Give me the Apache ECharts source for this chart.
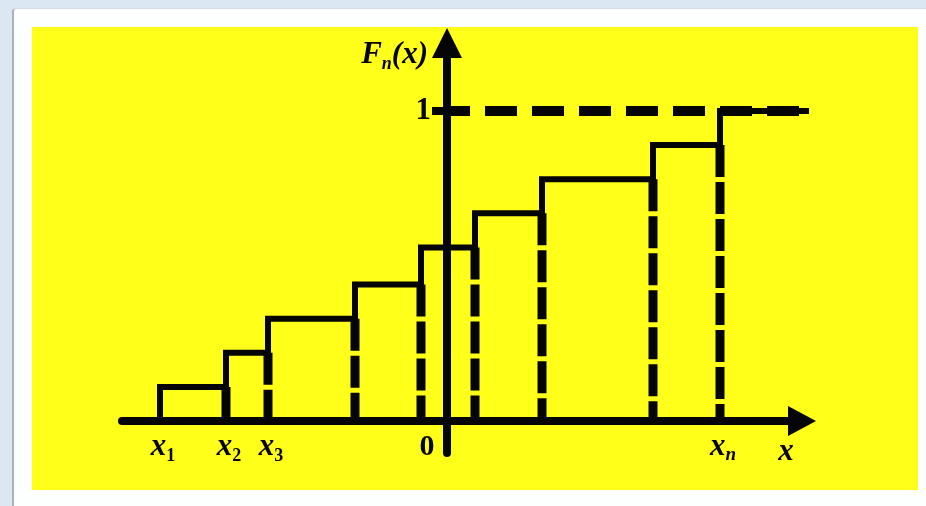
<!DOCTYPE html>
<html>
<head>
<meta charset="utf-8">
<script src="https://cdn.jsdelivr.net/npm/echarts@6/dist/echarts.min.js"></script>
<style>
    html, body { margin: 0; padding: 0; }
    body { width: 926px; height: 506px; background: #dbe7f3; position: relative; overflow: hidden; }
    #panel { position: absolute; left: 12px; top: 8px; width: 914px; height: 498px; background: #fdfefe;
             border-left: 2px solid #aab3bd; border-top: 1px solid #d3dbe3; border-top-left-radius: 4px; }
    #main { position: absolute; left: 32px; top: 27px; width: 886px; height: 463px; }
</style>
</head>
<body>
<div id="panel"></div>
<div id="main"></div>
<script>
    // 阶梯函数的跳跃点 x1 ... xn (横轴单位: 原点在纵轴)
    var stepX = [-28.7, -22.1, -17.9, -9.2, -2.6, 2.8, 9.5, 20.6, 27.3];
    // 每个跳跃点之后的经验分布函数值
    var stepF = [0.11, 0.22, 0.33, 0.44, 0.56, 0.67, 0.78, 0.89, 1];
    // 最后一段水平线的终点
    var xEnd = 36.9;
    // 横轴刻度标签
    var xTickValues = [stepX[0], stepX[1], stepX[2], 0, stepX[8]];
    var xTickNames = ['x1', 'x2', 'x3', '0', 'xn'];
    // 纵轴刻度
    var yTickValues = [1];

    var fontFamily = "'Liberation Serif', 'Times New Roman', serif";
    var ink = '#050505';

    //阶梯折线
    var stepData = [[stepX[0], 0]];
    for (var i = 0; i < stepX.length; i++) {
        stepData.push([stepX[i], stepF[i]]);
        stepData.push([i + 1 < stepX.length ? stepX[i + 1] : xEnd, stepF[i]]);
    }

    var series = [
        {
            type: 'line',
            data: stepData,
            showSymbol: false,
            clip: false,
            z: 3,
            lineStyle: { color: ink, width: 6, join: 'miter' }
        },
        {
            // F = 1 的水平虚线
            type: 'line',
            data: [[0, 1], [xEnd, 1]],
            showSymbol: false,
            clip: false,
            z: 4,
            lineStyle: { color: ink, width: 10, type: [32, 15], dashOffset: 9 }
        }
    ];

    //每个跳跃点下方的竖直虚线
    for (var j = 1; j < stepX.length; j++) {
        series.push({
            type: 'line',
            data: [[stepX[j], stepF[j - 1]], [stepX[j], 0]],
            showSymbol: false,
            z: 2,
            lineStyle: { color: ink, width: 9, type: [32, 5] }
        });
    }

    function nearestName(value) {
        var best = 0;
        for (var k = 1; k < xTickValues.length; k++) {
            if (Math.abs(xTickValues[k] - value) < Math.abs(xTickValues[best] - value)) {
                best = k;
            }
        }
        return xTickNames[best];
    }

    var myChart = echarts.init(document.getElementById('main'));
    var option = {
        backgroundColor: '#ffff1a',
        animation: false,
        grid: { left: 90, right: 112, top: 11, bottom: 37, outerBoundsMode: 'none', containLabel: false },
        xAxis: {
            type: 'value',
            min: -32.5,
            max: 35.9,
            offset: -32,
            splitLine: { show: false },
            axisTick: { show: false },
            axisLine: {
                onZero: false,
                lineStyle: { color: ink, width: 8 },
                symbol: ['none', 'triangle'],
                symbolSize: [30, 28],
                symbolOffset: [0, -4]
            },
            axisLabel: {
                customValues: xTickValues,
                margin: 8,
                formatter: function (value) {
                    var name = nearestName(value);
                    if (name.length > 1) {
                        var sub = name.charAt(1);
                        return '{v|' + name.charAt(0) + '}{' + (/[0-9]/.test(sub) ? 'd' : 's') + '|' + sub + '}';
                    }
                    return '{z|' + name + '}';
                },
                rich: {
                    v: { fontFamily: fontFamily, fontStyle: 'italic', fontWeight: 'bold', fontSize: 31, lineHeight: 36, color: ink, padding: [0, 0, 0, 6] },
                    d: { fontFamily: fontFamily, fontWeight: 'bold', fontSize: 18, lineHeight: 12, verticalAlign: 'bottom', color: ink },
                    s: { fontFamily: fontFamily, fontStyle: 'italic', fontWeight: 'bold', fontSize: 19, lineHeight: 12, verticalAlign: 'bottom', color: ink },
                    z: { fontFamily: fontFamily, fontWeight: 'bold', fontSize: 30, lineHeight: 36, color: ink, padding: [0, 40, 0, 0] }
                }
            },
            name: '{v|x}',
            nameLocation: 'end',
            nameGap: -20,
            nameMoveOverlap: false,
            nameTextStyle: {
                align: 'center',
                verticalAlign: 'top',
                padding: [13, 0, 0, 0],
                rich: {
                    v: { fontFamily: fontFamily, fontStyle: 'italic', fontWeight: 'bold', fontSize: 31, lineHeight: 36, color: ink }
                }
            }
        },
        yAxis: {
            type: 'value',
            min: -0.1032,
            max: 1.2355,
            offset: -325,
            splitLine: { show: false },
            axisLine: {
                onZero: false,
                lineStyle: { color: ink, width: 8 },
                symbol: ['none', 'triangle'],
                symbolSize: [30, 30],
                symbolOffset: [0, -5]
            },
            axisTick: {
                customValues: yTickValues,
                length: 15,
                lineStyle: { color: ink, width: 8 }
            },
            axisLabel: {
                customValues: yTickValues,
                margin: 16,
                color: ink,
                fontFamily: fontFamily,
                fontWeight: 'bold',
                fontSize: 31
            },
            name: '{v|F}{s|n}{v|(x)}',
            nameLocation: 'end',
            nameGap: -17,
            nameMoveOverlap: false,
            nameTextStyle: {
                align: 'right',
                verticalAlign: 'middle',
                padding: [0, 19, 0, 0],
                rich: {
                    v: { fontFamily: fontFamily, fontStyle: 'italic', fontWeight: 'bold', fontSize: 31, lineHeight: 36, color: ink },
                    s: { fontFamily: fontFamily, fontStyle: 'italic', fontWeight: 'bold', fontSize: 18, lineHeight: 12, verticalAlign: 'bottom', color: ink }
                }
            }
        },
        series: series
    };
    myChart.setOption(option);
</script>
</body>
</html>
